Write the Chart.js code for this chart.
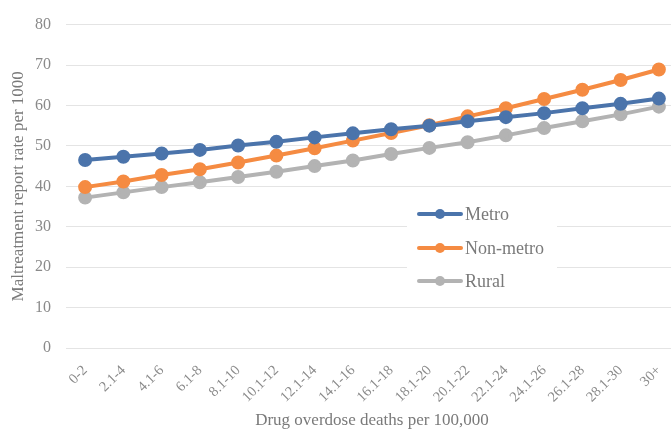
<!DOCTYPE html>
<html>
<head>
<meta charset="utf-8">
<script src="https://cdn.jsdelivr.net/npm/chart.js@4"></script>
<style>
  html, body { margin: 0; padding: 0; background: #fff; overflow: hidden; }
  #wrap { width: 690px; height: 431px; position: relative; }
</style>
</head>
<body>
<div id="wrap"><canvas id="c"></canvas></div>
<script>
const categories = ["0-2","2.1-4","4.1-6","6.1-8","8.1-10","10.1-12","12.1-14","14.1-16","16.1-18","18.1-20","20.1-22","22.1-24","24.1-26","26.1-28","28.1-30","30+"];
const metro    = [46.5, 47.3, 48.1, 49.0, 50.1, 51.0, 52.1, 53.1, 54.1, 55.0, 56.1, 57.1, 58.1, 59.3, 60.4, 61.7];
const nonMetro = [39.8, 41.2, 42.8, 44.2, 45.9, 47.6, 49.4, 51.3, 53.2, 55.1, 57.3, 59.3, 61.6, 63.9, 66.3, 68.9];
const rural    = [37.2, 38.5, 39.8, 41.0, 42.3, 43.6, 45.0, 46.4, 48.0, 49.5, 50.9, 52.6, 54.4, 56.1, 57.8, 59.7];
const yTicks   = [0, 10, 20, 30, 40, 50, 60, 70, 80];

const FONT = "'Liberation Serif', 'DejaVu Serif', serif";
const colors = { metro: '#4B74AB', non: '#F58B42', rural: '#B3B3B3' };

function ds(label, data, color) {
  return {
    label, data,
    borderColor: color, backgroundColor: color,
    pointBackgroundColor: color, pointBorderColor: color,
    borderWidth: 4, pointRadius: 5, pointHoverRadius: 5,
    tension: 0, fill: false
  };
}

const legendPlugin = {
  id: 'boxLegend',
  afterDraw(chart) {
    const ctx = chart.ctx;
    const x0 = 407, y0 = 195, w = 150, h = 105;
    ctx.save();
    ctx.fillStyle = '#ffffff';
    ctx.fillRect(x0, y0, w, h);
    const rows = [214, 248, 281];
    chart.data.datasets.forEach((d, i) => {
      const y = rows[i];
      ctx.strokeStyle = d.borderColor;
      ctx.lineWidth = 4;
      ctx.lineCap = 'round';
      ctx.beginPath();
      ctx.moveTo(419, y);
      ctx.lineTo(461, y);
      ctx.stroke();
      ctx.fillStyle = d.borderColor;
      ctx.beginPath();
      ctx.arc(440, y, 5, 0, Math.PI * 2);
      ctx.fill();
      ctx.fillStyle = '#7a7a7a';
      ctx.font = '18px ' + FONT;
      ctx.textAlign = 'left';
      ctx.textBaseline = 'middle';
      ctx.fillText(d.label, 465, y + 1);
    });
    ctx.restore();
  }
};

new Chart(document.getElementById('c'), {
  type: 'line',
  data: {
    labels: categories,
    datasets: [
      ds('Metro', metro, colors.metro),
      ds('Non-metro', nonMetro, colors.non),
      ds('Rural', rural, colors.rural)
    ]
  },
  options: {
    responsive: true,
    maintainAspectRatio: false,
    animation: false,
    layout: { padding: { top: 19, right: 12, left: 0, bottom: 0 } },
    plugins: { legend: { display: false }, tooltip: { enabled: false } },
    scales: {
      x: {
        type: 'category',
        offset: true,
        grid: { display: false },
        border: { display: false },
        ticks: {
          color: '#8a8a8a',
          font: { family: FONT, size: 14.5 },
          maxRotation: 45, minRotation: 45,
          autoSkip: false,
          padding: 6
        },
        title: {
          display: true,
          text: 'Drug overdose deaths per 100,000',
          color: '#7a7a7a',
          font: { family: FONT, size: 17 },
          padding: { top: 0, bottom: 0 }
        },
        afterFit(scale) { scale.height = 83; }
      },
      y: {
        min: 0, max: 80,
        afterBuildTicks(scale) { scale.ticks = yTicks.map(v => ({ value: v })); },
        grid: { color: '#e4e4e4', lineWidth: 1, drawTicks: false },
        border: { display: false },
        ticks: {
          color: '#8a8a8a',
          font: { family: FONT, size: 16 },
          padding: 15
        },
        title: {
          display: true,
          text: 'Maltreatment report rate per 1000',
          color: '#7a7a7a',
          font: { family: FONT, size: 17 },
          padding: { top: 8, bottom: 0 }
        },
        afterFit(scale) { scale.width = 66; }
      }
    }
  },
  plugins: [legendPlugin]
});
</script>
</body>
</html>
